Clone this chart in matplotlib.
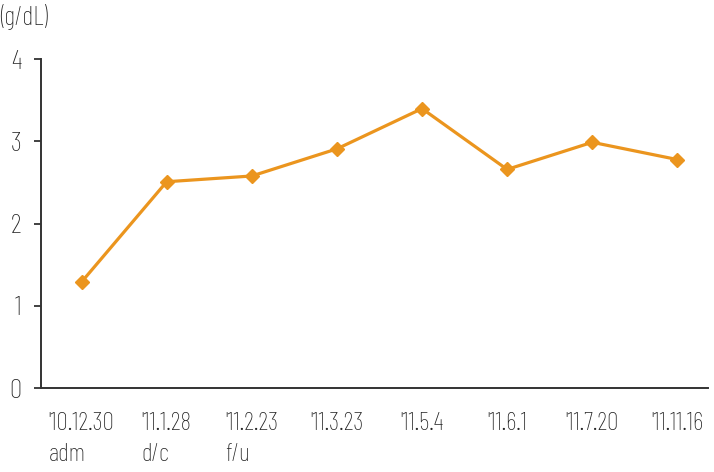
import matplotlib
matplotlib.use("Agg")
import matplotlib.pyplot as plt
from matplotlib import font_manager

dates = ["'10.12.30", "'11.1.28", "'11.2.23", "'11.3.23", "'11.5.4", "'11.6.1", "'11.7.20", "'11.11.16"]
notes = ["adm", "d/c", "f/u", "", "", "", "", ""]
values = [1.29, 2.51, 2.58, 2.91, 3.40, 2.66, 2.99, 2.78]
yticks = [0, 1, 2, 3, 4]
unit_label = "(g/dL)"

names = {f.name for f in font_manager.fontManager.ttflist}
fam = next((n for n in ["Barlow Condensed", "Roboto Condensed", "Fira Sans Condensed"] if n in names), "DejaVu Sans")
plt.rcParams['font.family'] = [fam, 'DejaVu Sans']
plt.rcParams['font.weight'] = 'light'

W, H = 714, 472
fig = plt.figure(figsize=(W/100, H/100), dpi=100)
left, right = 40.7 / W, 708 / W
bottom, top = 1 - 388 / H, 1 - 59.3 / H
ax = fig.add_axes([left, bottom, right - left, top - bottom])

color = "#EB951E"
x = list(range(len(values)))
ax.plot(x, values, color=color, lw=2.3, marker="D", markersize=7.5,
        markerfacecolor=color, markeredgecolor=color, clip_on=False, zorder=3)

ax.set_ylim(0, 4)
ax.set_xlim(-0.48, 7.36)
ax.set_yticks(yticks)
ax.set_yticklabels([str(v) for v in yticks], fontsize=20, color="#222222")

labels = [d + "\n" + n if n else d + "\n " for d, n in zip(dates, notes)]
ax.set_xticks(x)
ax.set_xticklabels(labels, fontsize=18.5, color="#222222", linespacing=1.45,
                   multialignment="left")
ax.tick_params(axis="x", length=0, pad=17)
ax.tick_params(axis="y", length=5, width=1.3, color="#333333", pad=9, direction="out")

for s in ["top", "right"]:
    ax.spines[s].set_visible(False)
for s in ["left", "bottom"]:
    ax.spines[s].set_color("#333333")
    ax.spines[s].set_linewidth(1.4)

fig.text(0.0, 1 - 17 / H, unit_label, fontsize=19, color="#222222",
         ha="left", va="center")

fig.savefig("out.png", dpi=100)
